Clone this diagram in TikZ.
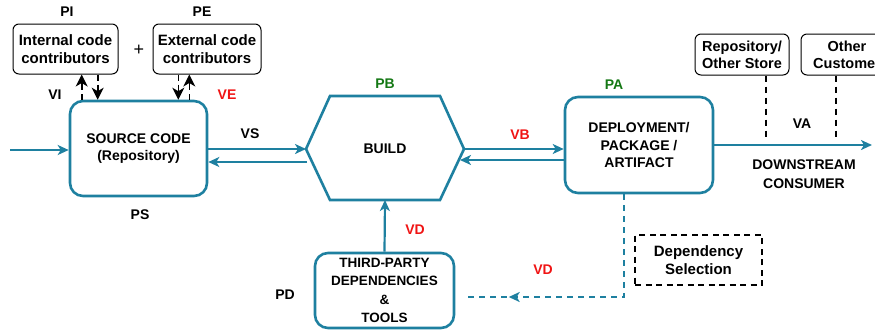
\documentclass[tikz,border=0pt]{standalone}
\usepackage{fontspec}
\setmainfont{Liberation Sans}
\usetikzlibrary{arrows.meta,calc,decorations.markings}
\definecolor{flow}{RGB}{30,128,160}
\definecolor{lblred}{RGB}{240,20,20}
\definecolor{lblgreen}{RGB}{20,120,20}
\tikzset{
  mainbox/.style={draw=flow,line width=2.6pt,rounded corners=13pt,align=center,font=\fontsize{14}{17.5}\selectfont\bfseries},
  actor/.style={draw=black,line width=1pt,rounded corners=6pt,align=center,font=\fontsize{15}{18}\selectfont\bfseries},
  lbl/.style={font=\fontsize{14}{17}\selectfont\bfseries},
  txt/.style={font=\fontsize{14}{18}\selectfont\bfseries,align=center},
  flowarrow/.style={draw=flow,line width=2.2pt,-{Stealth[length=11pt,width=10pt,inset=3pt]}},
  ctrlstub/.style={draw=black,line width=1.6pt},
  ctrlhead/.style={draw=black,line width=1.6pt,-{Stealth[length=12pt,width=12pt,inset=3.5pt]}},
  blackdash/.style={draw=black,line width=1.6pt,dash pattern=on 6pt off 5pt},
}
\begin{document}
\begin{tikzpicture}[x=1pt,y=-1pt]
\useasboundingbox (0,0) rectangle (875,333);
\clip (0,0) rectangle (875,333);
% actors
\node[actor,minimum width=105pt,minimum height=50pt] (intl) at (65.5,49) {Internal code\\contributors};
\node[actor,minimum width=108pt,minimum height=50pt] (extl) at (207,49) {External code\\contributors};
\node[lbl] (pi) at (67,12) {PI};
\node[lbl] (pe) at (202,12) {PE};
\node[font=\fontsize{18}{18}\selectfont] (plus) at (139,50) {+};
\node[lbl] (vi) at (55,95) {VI};
\node[lbl,text=lblred] (ve) at (227,95) {VE};
% main boxes
\node[mainbox,minimum width=137pt,minimum height=95pt] (src) at (138.5,148.5) {SOURCE CODE\\(Repository)};
\node[lbl] (ps) at (140,215) {PS};
% build hexagon
\coordinate (bl) at (306,149);
\coordinate (br) at (464,149);
\coordinate (bb) at (385,200);
\draw[draw=flow,line width=2.6pt,line join=miter] (bl) -- (330,96) -- (440,96) -- (br) -- (440,200) -- (330,200) -- cycle;
\node[txt] (build) at (385,149) {BUILD};
\node[lbl,text=lblgreen] (pb) at (385,84) {PB};
\node[mainbox,minimum width=148pt,minimum height=96pt] (dep) at (639,145) {DEPLOYMENT/\\PACKAGE /\\ARTIFACT};
\node[lbl,text=lblgreen] (pa) at (614,85) {PA};
\node[mainbox,minimum width=139pt,minimum height=75pt,font=\fontsize{13.5}{18.5}\selectfont\bfseries] (tools) at (384.5,290.5) {THIRD-PARTY\\DEPENDENCIES\\\&\\TOOLS};
\node[lbl] (pd) at (285,295) {PD};
% consumers
\node[actor,minimum width=94pt,minimum height=41pt,inner sep=1pt,font=\fontsize{14.5}{17}\selectfont\bfseries] (repo) at (742,54.5) {Repository/\\Other Store};
\node[actor,minimum width=92pt,minimum height=41pt,inner sep=1pt,font=\fontsize{14.5}{17}\selectfont\bfseries] (other) at (847,54.5) {Other\\Customer};
\node[draw=black,line width=1.7pt,dash pattern=on 6pt off 4.5pt,minimum width=127pt,minimum height=50pt,align=center,font=\fontsize{15}{18.5}\selectfont\bfseries] (depsel) at (698.5,260) {Dependency\\Selection};
% labels
\node[lbl] (vs) at (250,134) {VS};
\node[lbl,text=lblred] (vb) at (520,135) {VB};
\node[lbl] (va) at (802,124) {VA};
\node[txt,font=\fontsize{14}{18.5}\selectfont\bfseries] (down) at (804,174) {DOWNSTREAM\\CONSUMER};
\node[lbl,text=lblred] (vd1) at (415,230) {VD};
\node[lbl,text=lblred] (vd2) at (543,270) {VD};
% control arrows (dashed: stub at tail, solid head)
\coordinate (a1t) at ([xshift=13pt]src.north west);
\coordinate (a1h) at (a1t |- intl.south);
\coordinate (a2h) at ([xshift=29pt]src.north west);
\coordinate (a2t) at (a2h |- intl.south);
\coordinate (a3h) at ([xshift=-30pt]src.north east);
\coordinate (a3t) at (a3h |- extl.south);
\coordinate (a4t) at ([xshift=-19pt]src.north east);
\coordinate (a4h) at (a4t |- extl.south);
\foreach \t/\h in {a1t/a1h,a2t/a2h,a3t/a3h,a4t/a4h}{
  \draw[ctrlstub] (\t) -- ($(\t)!6pt!(\h)$);
  \draw[ctrlhead] ($(\t)!10pt!(\h)$) -- (\h);
}
% flows
\coordinate (in) at (10,150);
\draw[flowarrow] (in) -- (in -| src.west);
\draw[flowarrow] (src.east |- bl) -- (bl);
\coordinate (bret) at (307,162);
\draw[flowarrow] (bret) -- (bret -| src.east);
\draw[flowarrow] (br) -- (br -| dep.west);
\coordinate (dret) at (460,160);
\draw[flowarrow] (dret -| dep.west) -- (dret);
\coordinate (out) at (872,145);
\draw[flowarrow] (dep.east) -- (out);
\draw[flowarrow] (tools.north) -- (bb);
% dependency selection path
\coordinate (dcorner) at (624,297);
\draw[draw=flow,line width=2pt,dash pattern=on 6pt off 5pt,shorten >=9pt,
  postaction={decorate},
  decoration={markings,mark=at position 218pt with {\arrow{Stealth[length=11pt,width=10pt,inset=3pt]}}}]
  ([xshift=-15pt]dep.south) -- (dcorner) -- (dcorner -| tools.east);
% dashed consumer links
\coordinate (c1) at (766,137);
\coordinate (c2) at (836,137);
\draw[blackdash] (c1 |- repo.south) -- (c1);
\draw[blackdash] (c2 |- other.south) -- (c2);
\end{tikzpicture}
\end{document}
